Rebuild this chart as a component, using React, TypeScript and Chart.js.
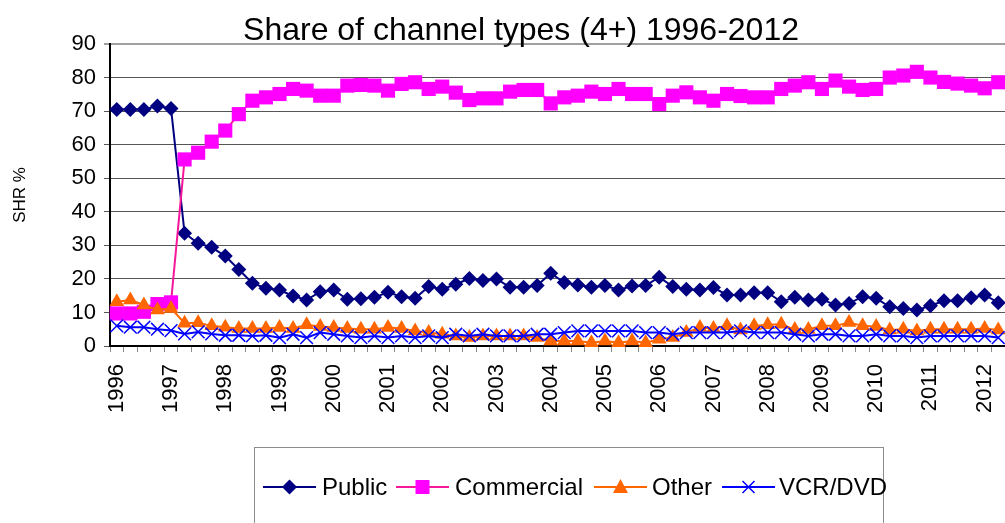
import React, { useEffect, useRef } from 'react';
import { Chart, registerables } from 'chart.js';

Chart.register(...registerables);

const TITLE = 'Share of channel types (4+) 1996-2012';
const Y_TITLE = 'SHR %';
const YEARS = ['1996', '1997', '1998', '1999', '2000', '2001', '2002', '2003', '2004', '2005', '2006', '2007', '2008', '2009', '2010', '2011', '2012'];
const QUARTERS = ['Q1', 'Q2', 'Q3', 'Q4'];
const N_POINTS = 66;
const categories = YEARS.flatMap((y) => QUARTERS.map((q) => `${y} ${q}`)).slice(0, N_POINTS);

const publicShare = [
  70.5, 70.5, 70.5, 71.5, 70.8, 33.6, 30.6, 29.4, 26.8, 22.8,
  18.7, 17.2, 16.7, 14.9, 13.7, 16.2, 16.7, 13.9, 14.1, 14.5,
  16.0, 14.7, 14.2, 17.7, 16.9, 18.4, 20.1, 19.5, 20.0, 17.5,
  17.5, 18.0, 21.7, 18.9, 18.2, 17.5, 18.0, 16.7, 17.9, 18.0,
  20.5, 17.7, 16.9, 16.7, 17.4, 15.2, 15.2, 15.9, 15.9, 13.2,
  14.5, 13.7, 13.9, 12.2, 12.7, 14.7, 14.2, 11.7, 11.2, 10.7,
  12.0, 13.5, 13.5, 14.4, 15.2, 12.9,
];
const commercialShare = [
  9.7, 9.7, 10.2, 12.5, 13.0, 55.6, 57.6, 60.9, 64.2, 69.1,
  73.1, 74.1, 75.1, 76.6, 76.1, 74.6, 74.6, 77.6, 77.8, 77.6,
  76.1, 78.1, 78.6, 76.6, 77.3, 75.5, 73.3, 73.8, 73.8, 75.8,
  76.3, 76.3, 72.3, 74.1, 74.6, 75.8, 75.1, 76.6, 75.1, 75.1,
  72.1, 74.6, 75.6, 74.1, 73.1, 75.1, 74.5, 74.1, 74.1, 76.6,
  77.6, 78.6, 76.6, 79.1, 77.3, 76.3, 76.6, 80.0, 80.6, 81.7,
  80.0, 78.7, 78.2, 77.6, 76.8, 78.6,
];
const otherShare = [
  13.2, 13.7, 12.2, 10.7, 11.2, 6.8, 6.9, 6.0, 5.6, 5.2,
  5.2, 5.2, 5.5, 5.2, 6.3, 5.8, 5.5, 5.2, 5.0, 5.0,
  5.5, 5.2, 4.5, 4.0, 3.5, 3.0, 2.5, 3.0, 3.0, 3.0,
  3.0, 2.5, 1.5, 1.5, 1.5, 1.0, 1.5, 1.0, 1.5, 1.0,
  2.0, 2.5, 4.0, 5.5, 5.2, 6.0, 4.8, 6.0, 6.3, 6.5,
  4.9, 4.9, 6.0, 6.0, 7.0, 6.0, 5.8, 4.8, 5.0, 4.5,
  5.0, 5.0, 5.0, 5.0, 5.2, 4.8,
];
const vcrShare = [
  6.0, 5.6, 5.6, 5.0, 4.6, 3.6, 4.2, 3.6, 3.2, 3.2,
  3.0, 3.2, 2.5, 3.5, 2.5, 4.0, 3.5, 3.0, 2.5, 3.0,
  2.5, 3.0, 2.5, 3.0, 2.5, 3.5, 3.0, 3.5, 3.0, 3.0,
  3.0, 3.5, 3.5, 4.0, 4.5, 4.5, 4.5, 4.5, 4.5, 4.0,
  4.0, 3.5, 4.0, 4.0, 4.0, 4.0, 4.5, 4.0, 4.0, 4.0,
  3.5, 3.0, 3.5, 3.5, 3.0, 3.0, 3.5, 3.0, 3.0, 2.5,
  3.0, 3.0, 3.0, 3.0, 3.0, 2.5,
];

const SERIES_NAMES = ['Public', 'Commercial', 'Other', 'VCR/DVD'];
const FONT = '"Liberation Sans", Arial, sans-serif';

const C_PUBLIC = '#000080';
const C_COMM_LINE = '#F5189A';
const C_COMM_MARK = '#FF00FF';
const C_OTHER = '#FF6600';
const C_VCR = '#0000FF';

function drawMarker(ctx: CanvasRenderingContext2D, kind: string, x: number, y: number) {
  ctx.save();
  ctx.beginPath();
  if (kind === 'diamond') {
    ctx.fillStyle = C_PUBLIC;
    ctx.moveTo(x - 7.5, y);
    ctx.lineTo(x, y - 7.5);
    ctx.lineTo(x + 7.5, y);
    ctx.lineTo(x, y + 7.5);
    ctx.closePath();
    ctx.fill();
  } else if (kind === 'square') {
    ctx.fillStyle = C_COMM_MARK;
    ctx.fillRect(x - 7, y - 7, 14, 14);
  } else if (kind === 'triangle') {
    ctx.fillStyle = C_OTHER;
    ctx.moveTo(x - 7.5, y + 6);
    ctx.lineTo(x, y - 8);
    ctx.lineTo(x + 7.5, y + 6);
    ctx.closePath();
    ctx.fill();
  } else {
    ctx.strokeStyle = C_VCR;
    ctx.lineWidth = 1.5;
    ctx.moveTo(x - 6, y - 6);
    ctx.lineTo(x + 6, y + 6);
    ctx.moveTo(x + 6, y - 6);
    ctx.lineTo(x - 6, y + 6);
    ctx.stroke();
  }
  ctx.restore();
}

const titlePlugin = {
  id: 'customTitle',
  afterDraw(chart: any) {
    const ctx = chart.ctx as CanvasRenderingContext2D;
    ctx.save();
    ctx.font = `32px ${FONT}`;
    ctx.fillStyle = '#000';
    ctx.textAlign = 'center';
    ctx.textBaseline = 'alphabetic';
    ctx.fillText(TITLE, 521, 40);
    ctx.restore();
  },
};

const legendPlugin = {
  id: 'customLegend',
  afterDraw(chart: any) {
    const ctx = chart.ctx as CanvasRenderingContext2D;
    ctx.save();
    ctx.strokeStyle = '#8c8c8c';
    ctx.lineWidth = 1;
    ctx.strokeRect(254.5, 447.5, 629, 120);
    const y = 487;
    const items = [
      { x0: 263, text: 322, line: C_PUBLIC, kind: 'diamond' },
      { x0: 396, text: 455, line: C_COMM_LINE, kind: 'square' },
      { x0: 594, text: 652, line: C_OTHER, kind: 'triangle' },
      { x0: 722, text: 779, line: C_VCR, kind: 'cross' },
    ];
    items.forEach((it, i) => {
      ctx.strokeStyle = it.line;
      ctx.lineWidth = 2;
      ctx.beginPath();
      ctx.moveTo(it.x0, y);
      ctx.lineTo(it.x0 + 53, y);
      ctx.stroke();
      drawMarker(ctx, it.kind, it.x0 + 26.5, y);
      ctx.fillStyle = '#000';
      ctx.font = `24px ${FONT}`;
      ctx.textAlign = 'left';
      ctx.textBaseline = 'middle';
      ctx.fillText(SERIES_NAMES[i], it.text, y + 1);
    });
    ctx.restore();
  },
};

export default function App() {
  const ref = useRef<HTMLCanvasElement>(null);

  useEffect(() => {
    if (!ref.current) return;
    const chart = new Chart(ref.current, {
      type: 'line',
      data: {
        labels: categories,
        datasets: [
          {
            label: SERIES_NAMES[0],
            data: publicShare,
            borderColor: C_PUBLIC,
            backgroundColor: C_PUBLIC,
            borderWidth: 2,
            pointStyle: 'rectRot',
            pointRadius: 7.5,
            pointBorderWidth: 0,
            pointBackgroundColor: C_PUBLIC,
            pointBorderColor: C_PUBLIC,
            order: 3,
            clip: false,
          },
          {
            label: SERIES_NAMES[1],
            data: commercialShare,
            borderColor: C_COMM_LINE,
            backgroundColor: C_COMM_MARK,
            borderWidth: 2,
            pointStyle: 'rect',
            pointRadius: 10,
            pointBorderWidth: 0,
            pointBackgroundColor: C_COMM_MARK,
            pointBorderColor: C_COMM_MARK,
            order: 2,
            clip: false,
          },
          {
            label: SERIES_NAMES[2],
            data: otherShare,
            borderColor: C_OTHER,
            backgroundColor: C_OTHER,
            borderWidth: 2,
            pointStyle: 'triangle',
            pointRadius: 8.5,
            pointBorderWidth: 0,
            pointBackgroundColor: C_OTHER,
            pointBorderColor: C_OTHER,
            order: 1,
            clip: false,
          },
          {
            label: SERIES_NAMES[3],
            data: vcrShare,
            borderColor: C_VCR,
            backgroundColor: C_VCR,
            borderWidth: 2,
            pointStyle: 'crossRot',
            pointRadius: 9,
            pointBorderWidth: 1.5,
            pointBackgroundColor: C_VCR,
            pointBorderColor: C_VCR,
            order: 0,
            clip: false,
          },
        ],
      },
      options: {
        responsive: false,
        animation: false,
        events: [],
        layout: { autoPadding: false, padding: { top: 44, left: 0, right: 0, bottom: 0 } },
        plugins: {
          legend: { display: false },
          title: { display: false },
          tooltip: { enabled: false },
        },
        scales: {
          x: {
            type: 'category',
            offset: true,
            grid: {
              offset: true,
              drawOnChartArea: false,
              drawTicks: true,
              tickLength: 6,
              color: '#8a8a8a',
            },
            border: { color: '#000', width: 2 },
            ticks: {
              autoSkip: false,
              maxRotation: 90,
              minRotation: 90,
              padding: 12,
              color: '#000',
              font: { family: FONT, size: 22 },
              callback: (_v: any, i: number) => (i % 4 === 0 ? YEARS[i / 4] : ''),
            },
            afterFit: (s: any) => {
              s.height = 177;
              s.paddingLeft = 0;
              s.paddingRight = 0;
            },
          },
          y: {
            min: 0,
            max: 90,
            ticks: {
              stepSize: 10,
              padding: 8,
              color: '#000',
              font: { family: FONT, size: 22 },
            },
            grid: {
              tickLength: 6,
              color: (c: any) => (c.tick && c.tick.value === 90 ? '#a0a0a0' : '#555'),
              lineWidth: (c: any) => (c.tick && c.tick.value === 90 ? 2 : 1),
            },
            border: { color: '#000', width: 2 },
            title: {
              display: true,
              text: Y_TITLE,
              color: '#000',
              font: { family: FONT, size: 17 },
              padding: { top: 10, bottom: 0 },
            },
            afterFit: (s: any) => {
              s.width = 110;
            },
          },
        },
      },
      plugins: [titlePlugin, legendPlugin],
    } as any);
    return () => chart.destroy();
  }, []);

  return (
    <div style={{ position: 'absolute', left: 0, top: 0, width: 1005, height: 523, background: '#fff' }}>
      <canvas ref={ref} width={1005} height={523} style={{ display: 'block', width: 1005, height: 523 }} />
    </div>
  );
}
